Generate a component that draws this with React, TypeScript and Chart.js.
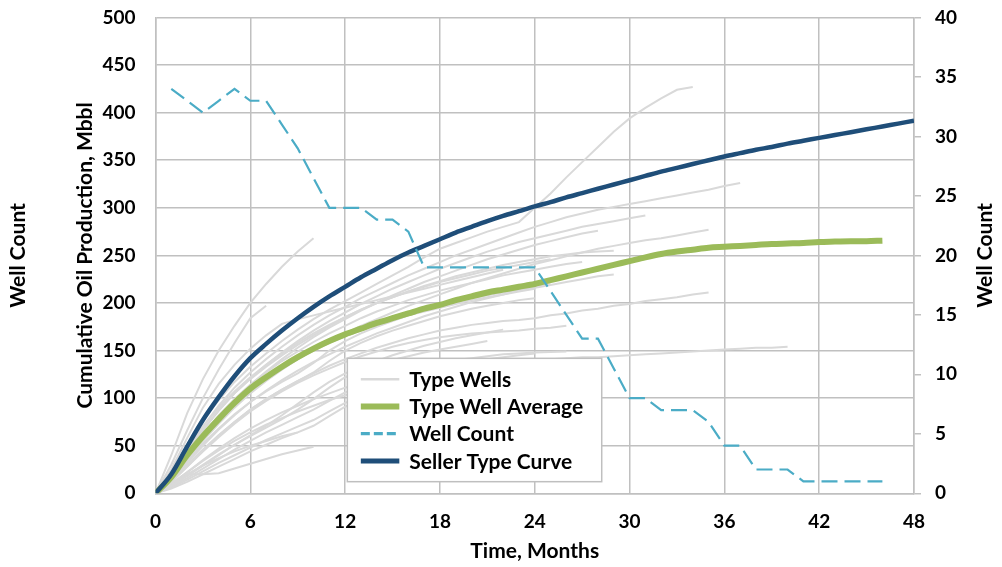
import React, { useEffect, useRef } from 'react';
import { Chart, registerables } from 'chart.js';

Chart.register(...registerables);

// ---------- DATA ----------
const xTicksStep = 6;
const xMax = 48;
const leftMax = 500;
const leftStep = 50;
const rightMax = 40;
const rightStep = 5;

const xTitle = 'Time, Months';
const leftTitle = 'Cumulative Oil Production, Mbbl';
const rightTitle = 'Well Count';
const farLeftTitle = 'Well Count';

// Seller type curve, months 0..48 (Mbbl)
const sellerTypeCurve = [
  0, 20, 49, 77, 101, 123, 142, 157, 171, 184,
  196, 207, 217, 227, 236, 245, 253, 260, 267, 274,
  280, 286, 291.5, 296.5, 301.5, 306, 311, 315.5, 320, 324.5,
  329, 333.5, 338, 342, 346, 350, 354, 357.5, 361, 364,
  367.5, 370.5, 373.5, 376.5, 379.5, 382.5, 385.5, 388.5, 391.5,
];

// Type well average, months 0..46 (Mbbl)
const typeWellAverage = [
  0, 17, 40, 60, 78, 95, 110, 122, 133, 143,
  152, 160, 167, 173, 179, 184, 189, 194, 198, 203,
  207, 211, 214, 217, 220, 224, 228, 232, 236, 240,
  244, 248, 251.5, 254, 256, 258, 259, 260, 261, 262,
  262.5, 263, 264, 264.5, 265, 265, 265.5,
];

// Well count, months 1..46 (right axis)
const wellCountStartMonth = 1;
const wellCount = [
  34, 33, 32, 33, 34, 33, 33, 31, 29, 26.5,
  24, 24, 24, 23, 23, 22, 19, 19, 19, 19,
  19, 19, 19, 19, 17, 15, 13, 13, 10.5, 8,
  8, 7, 7, 7, 6, 4, 4, 2, 2, 2,
  1, 1, 1, 1, 1, 1,
];

// Individual type wells, each from month 0 (Mbbl)
const wellA = [0, 40, 84, 120, 150, 176, 200, 220, 238, 254, 268];
const wellB = [0, 30, 66, 100, 130, 158, 184, 197];
const wellC = [0, 22, 50, 76, 98, 117, 133, 147, 160, 172, 183, 193, 202, 211, 220, 229, 238, 248, 257, 263, 269, 275, 280, 285, 300, 315, 332, 348, 364, 380, 394, 405, 415, 424, 427];
const wellD = [0, 20, 45, 70, 92, 111, 127, 141, 154, 166, 177, 187, 196, 205, 213, 221, 229, 236, 243, 250, 256, 262, 268, 274, 280, 285, 290, 294, 298, 301, 304, 307, 310, 313, 316, 319, 323, 326];
const wellE = [0, 18, 42, 66, 87, 105, 121, 135, 148, 160, 171, 181, 190, 199, 207, 215, 222, 229, 236, 242, 248, 254, 259, 264, 268, 272, 276, 280, 283, 286, 289, 292];
const wellF = [0, 16, 38, 60, 80, 98, 114, 128, 141, 153, 164, 174, 183, 192, 200, 208, 215, 222, 228, 234, 240, 246, 251, 256, 261, 265, 269, 273, 276];
const wellG = [0, 15, 35, 55, 73, 90, 105, 118, 130, 141, 151, 160, 168, 176, 183, 190, 197, 203, 209, 215, 221, 226, 231, 236, 241, 245, 249, 253, 257, 260, 263, 266, 268, 271, 274, 277];
const wellH = [0, 20, 46, 70, 90, 107, 122, 135, 147, 158, 168, 177, 185, 193, 200, 206, 212, 218, 223, 228, 232, 236, 240, 243, 246, 249, 251, 253, 254, 255];
const wellI = [0, 14, 32, 50, 67, 82, 96, 108, 119, 129, 138, 146, 154, 161, 168, 174, 180, 186, 191, 196, 201, 205, 209, 213, 216, 219, 222, 225, 228, 230];
const wellJ = [0, 12, 28, 45, 61, 75, 88, 99, 109, 118, 126, 134, 141, 147, 153, 158, 163, 167, 171, 174, 177, 179, 181, 182, 184, 187, 189, 192, 194, 197, 199, 202, 204, 206, 209, 211];
const wellK = [0, 10, 22, 34, 45, 55, 64, 72, 79, 86, 92, 98, 103, 108, 112, 116, 120, 123, 126, 129, 132, 135, 137, 139, 140, 141, 142, 143, 143, 144, 145, 146, 147, 148, 149, 150, 151, 152, 153, 153, 154];
const wellL = [0, 12, 28, 44, 59, 73, 86, 97, 107, 116, 124, 131, 138, 144, 149, 154, 158, 161, 164, 166, 168, 169, 170, 171, 173, 174, 176];
const wellM = [0, 10, 22, 35, 47, 58, 68, 77, 85, 92, 99, 105, 111, 116, 121, 125, 129, 133, 137, 140, 142, 144, 146, 147, 148, 148.5, 149];
const wellN = [0, 8, 20, 20, 21, 26, 31, 36, 41, 45, 49];
const wellO = [0, 10, 20, 29, 37, 44, 50, 55, 60, 64];
const wellP = [0, 18, 40, 60, 78, 94, 108, 120, 131, 141, 150, 158, 165, 171, 177, 182, 187, 191, 195, 199, 203, 206, 209, 212, 215];
const wellQ = [0, 15, 34, 52, 68, 83, 96, 107, 117, 126, 137, 150, 160, 168, 175, 181, 187, 192, 197, 201, 205, 208, 211, 214, 217, 220];
const wellR = [0, 14, 30, 46, 61, 75, 88, 99, 109, 118, 127, 139, 150, 158, 165, 171, 176, 181, 186, 190, 194, 197, 200, 203, 205];
const wellS = [0, 8, 18, 29, 40, 51, 61, 71, 82, 94, 106, 117, 126, 133, 139, 145, 150, 155, 159, 163, 166, 169, 172];
const wellT = [0, 9, 19, 30, 41, 51, 60, 69, 78, 88, 99, 111, 122, 129, 135, 140, 144, 148, 151, 154, 157, 160];
const wellU = [0, 7, 16, 26, 36, 46, 55, 64, 72, 80, 88, 97, 106, 112, 118, 123, 127, 131, 134, 137, 139, 141, 143, 145, 147];
const wellV = [0, 6, 14, 23, 32, 40, 48, 56, 63, 70, 77, 86, 95, 101, 106, 111, 115, 118, 121];
const wellW = [0, 5, 12, 20, 28, 36, 44, 51, 58, 64, 71, 81, 91, 98, 104, 110, 115, 120];
const wellX = [0, 20, 44, 67, 87, 105, 120, 133, 145, 156, 166, 176, 185, 193, 200, 206, 212, 217, 222, 226, 230, 234, 237, 240, 243, 246];
const wellY = [0, 18, 40, 62, 82, 99, 114, 127, 139, 149, 159, 168, 176, 184, 191, 197, 203, 208, 213, 217, 221, 225, 229, 232, 235, 238, 241, 243];
const wellZ = [0, 25, 58, 90, 115, 135, 152, 166, 178, 183, 187, 191, 195, 199, 203, 207, 211, 215, 219, 223, 227, 231, 235];

const typeWells = [
  wellA, wellB, wellC, wellD, wellE, wellF, wellG, wellH, wellI, wellJ, wellK, wellL, wellM,
  wellN, wellO, wellP, wellQ, wellR, wellS, wellT, wellU, wellV, wellW, wellX, wellY, wellZ,
];

const legendLabels = ['Type Wells', 'Type Well Average', 'Well Count', 'Seller Type Curve'];

// ---------- STYLES ----------
const FONT = 'Lato';
const TEXT = '#000000';
const GRID = '#c0c0c0';
const GRAY_LINE = '#d9d9d9';
const GREEN = '#9bbb59';
const AQUA = '#4bacc6';
const NAVY = '#1f4e79';

const legendStyles = [
  { color: GRAY_LINE, width: 2.6, dash: [] as number[] },
  { color: GREEN, width: 6, dash: [] as number[] },
  { color: AQUA, width: 3.2, dash: [9, 4] },
  { color: NAVY, width: 5, dash: [] as number[] },
];

const toPoints = (vals: number[], start = 0) => vals.map((v, i) => ({ x: start + i, y: v }));

const extrasPlugin = {
  id: 'extras',
  afterDraw(chart: any) {
    const { ctx, chartArea: ca } = chart;
    const w = ca.right - ca.left;
    const h = ca.bottom - ca.top;
    const midY = (ca.top + ca.bottom) / 2;

    // Legend box
    const x0 = ca.left + w * 0.2529;
    const x1 = ca.left + w * 0.5883;
    const y0 = ca.top + h * 0.7163;
    const y1 = ca.top + h * 0.9756;
    ctx.save();
    ctx.fillStyle = '#ffffff';
    ctx.fillRect(x0, y0, x1 - x0, y1 - y0);
    ctx.strokeStyle = '#bfbfbf';
    ctx.lineWidth = 1.5;
    ctx.strokeRect(x0, y0, x1 - x0, y1 - y0);
    ctx.font = `bold 21px ${FONT}`;
    ctx.textBaseline = 'middle';
    ctx.textAlign = 'left';
    legendLabels.forEach((label, i) => {
      const st = legendStyles[i];
      const y = y0 + 21 + i * 27.2;
      ctx.beginPath();
      ctx.setLineDash(st.dash);
      ctx.strokeStyle = st.color;
      ctx.lineWidth = st.width;
      ctx.moveTo(x0 + 13.5, y);
      ctx.lineTo(x0 + 52, y);
      ctx.stroke();
      ctx.setLineDash([]);
      ctx.fillStyle = TEXT;
      ctx.fillText(label, x0 + 62, y + 1);
    });

    // Rotated titles: far-left and right axis
    ctx.font = `bold 21px ${FONT}`;
    ctx.fillStyle = TEXT;
    ctx.textAlign = 'center';
    ctx.textBaseline = 'middle';
    ctx.save();
    ctx.translate(18, midY);
    ctx.rotate(-Math.PI / 2);
    ctx.fillText(farLeftTitle, 0, 0);
    ctx.restore();
    ctx.save();
    ctx.translate(985, midY);
    ctx.rotate(-Math.PI / 2);
    ctx.fillText(rightTitle, 0, 0);
    ctx.restore();
    ctx.restore();
  },
};

export default function App() {
  const canvasRef = useRef<HTMLCanvasElement | null>(null);

  useEffect(() => {
    if (!canvasRef.current) return;
    const tickFont = { family: FONT, size: 19, weight: 'bold' as const };
    const titleFont = { family: FONT, size: 21, weight: 'bold' as const };

    const datasets: any[] = typeWells.map((arr) => ({
      label: legendLabels[0],
      data: toPoints(arr),
      borderColor: GRAY_LINE,
      borderWidth: 2,
      pointRadius: 0,
      tension: 0,
      yAxisID: 'y',
      order: 4,
    }));
    datasets.push({
      label: legendLabels[1],
      data: toPoints(typeWellAverage),
      borderColor: GREEN,
      borderWidth: 6,
      borderJoinStyle: 'round',
      cubicInterpolationMode: 'monotone',
      pointRadius: 0,
      yAxisID: 'y',
      order: 3,
    });
    datasets.push({
      label: legendLabels[3],
      data: toPoints(sellerTypeCurve),
      borderColor: NAVY,
      borderWidth: 4.5,
      borderJoinStyle: 'round',
      cubicInterpolationMode: 'monotone',
      pointRadius: 0,
      yAxisID: 'y',
      order: 2,
    });
    datasets.push({
      label: legendLabels[2],
      data: toPoints(wellCount, wellCountStartMonth),
      borderColor: AQUA,
      borderWidth: 2.2,
      borderDash: [16, 7],
      pointRadius: 0,
      tension: 0,
      yAxisID: 'y2',
      order: 1,
    });

    const fixVertical = (width: number) => (s: any) => {
      s.width = width;
      s.paddingTop = 0;
      s.paddingBottom = 0;
    };

    const chart = new Chart(canvasRef.current, {
      type: 'line',
      data: { datasets },
      options: {
        responsive: false,
        animation: false,
        layout: { padding: { top: 17.5, left: 0, right: 0, bottom: 0 } },
        plugins: {
          legend: { display: false },
          tooltip: { enabled: false },
        },
        scales: {
          x: {
            type: 'linear',
            position: 'bottom',
            min: 0,
            max: xMax,
            grid: { color: GRID, lineWidth: 1.5, drawTicks: false },
            border: { color: GRID, width: 1.5 },
            ticks: { stepSize: xTicksStep, padding: 17, font: tickFont, color: TEXT, maxRotation: 0 },
            title: { display: true, text: xTitle, font: titleFont, color: TEXT, padding: { top: 0, bottom: 3 } },
            afterFit: (s: any) => { s.height = 73.7; },
          },
          y: {
            type: 'linear',
            position: 'left',
            min: 0,
            max: leftMax,
            grid: { color: GRID, lineWidth: 1.5, drawTicks: false },
            border: { color: GRID, width: 1.5 },
            ticks: { stepSize: leftStep, padding: 20, font: tickFont, color: TEXT },
            title: { display: true, text: leftTitle, font: titleFont, color: TEXT, padding: { top: 72.4, bottom: 0 } },
            afterFit: fixVertical(155.5),
          },
          y2: {
            type: 'linear',
            position: 'right',
            min: 0,
            max: rightMax,
            grid: { drawOnChartArea: false, drawTicks: true, tickLength: 7, color: GRID, lineWidth: 1.5 },
            border: { color: GRID, width: 1.5 },
            ticks: { stepSize: rightStep, padding: 14, font: tickFont, color: TEXT },
            afterFit: fixVertical(88),
          },
        },
      },
      plugins: [extrasPlugin],
    } as any);

    return () => chart.destroy();
  }, []);

  return (
    <div style={{ position: 'fixed', left: 0, top: 0, width: 1002, height: 567, background: '#ffffff' }}>
      <canvas ref={canvasRef} width={1002} height={567} style={{ display: 'block' }} />
    </div>
  );
}
